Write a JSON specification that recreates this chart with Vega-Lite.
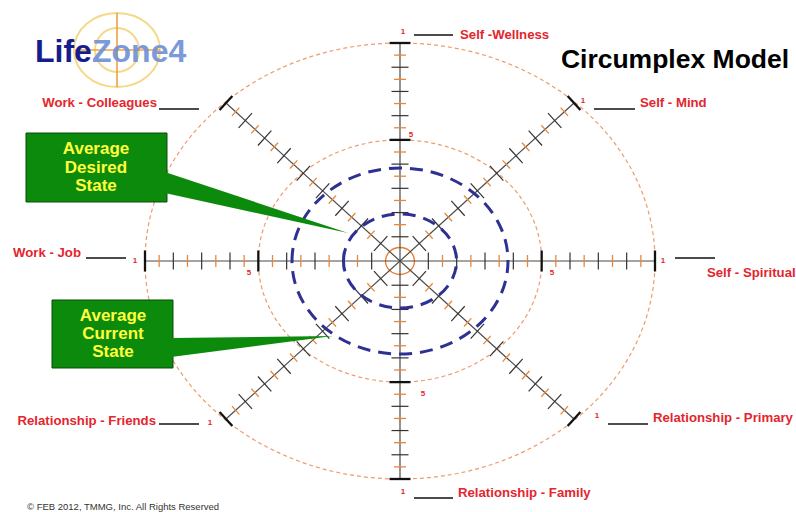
{
"$schema": "https://vega.github.io/schema/vega-lite/v6.json",
"width": 796, "height": 512, "padding": 0, "autosize": {"type": "none"},
"background": "white",
"config": {"view": {"stroke": null}},
"resolve": {"scale": {"shape": "independent"}},
"datasets": {
"ticks": [
{"s":"h","t":"M","u":1,"v":0},{"s":"h","t":"M","u":2,"v":0},{"s":"h","t":"M","u":3,"v":0},{"s":"h","t":"M","u":4,"v":0},{"s":"h","t":"T","u":5,"v":0},{"s":"h","t":"M","u":6,"v":0},{"s":"h","t":"M","u":7,"v":0},{"s":"h","t":"M","u":8,"v":0},{"s":"h","t":"T","u":9,"v":0},
{"s":"h","t":"M","u":-1,"v":0},{"s":"h","t":"M","u":-2,"v":0},{"s":"h","t":"M","u":-3,"v":0},{"s":"h","t":"M","u":-4,"v":0},{"s":"h","t":"T","u":-5,"v":0},{"s":"h","t":"M","u":-6,"v":0},{"s":"h","t":"M","u":-7,"v":0},{"s":"h","t":"M","u":-8,"v":0},{"s":"h","t":"T","u":-9,"v":0},
{"s":"h","t":"n","u":1.5,"v":0},{"s":"h","t":"n","u":2.5,"v":0},{"s":"h","t":"n","u":3.5,"v":0},{"s":"h","t":"n","u":4.5,"v":0},{"s":"h","t":"n","u":5.5,"v":0},{"s":"h","t":"n","u":6.5,"v":0},{"s":"h","t":"n","u":7.5,"v":0},{"s":"h","t":"n","u":8.5,"v":0},
{"s":"h","t":"n","u":-1.5,"v":0},{"s":"h","t":"n","u":-2.5,"v":0},{"s":"h","t":"n","u":-3.5,"v":0},{"s":"h","t":"n","u":-4.5,"v":0},{"s":"h","t":"n","u":-5.5,"v":0},{"s":"h","t":"n","u":-6.5,"v":0},{"s":"h","t":"n","u":-7.5,"v":0},{"s":"h","t":"n","u":-8.5,"v":0},
{"s":"v","t":"M","v":1,"u":0},{"s":"v","t":"M","v":2,"u":0},{"s":"v","t":"M","v":3,"u":0},{"s":"v","t":"M","v":4,"u":0},{"s":"v","t":"T","v":5,"u":0},{"s":"v","t":"M","v":6,"u":0},{"s":"v","t":"M","v":7,"u":0},{"s":"v","t":"M","v":8,"u":0},{"s":"v","t":"T","v":9,"u":0},
{"s":"v","t":"M","v":-1,"u":0},{"s":"v","t":"M","v":-2,"u":0},{"s":"v","t":"M","v":-3,"u":0},{"s":"v","t":"M","v":-4,"u":0},{"s":"v","t":"T","v":-5,"u":0},{"s":"v","t":"M","v":-6,"u":0},{"s":"v","t":"M","v":-7,"u":0},{"s":"v","t":"M","v":-8,"u":0},{"s":"v","t":"T","v":-9,"u":0},
{"s":"v","t":"n","v":1.5,"u":0},{"s":"v","t":"n","v":2.5,"u":0},{"s":"v","t":"n","v":3.5,"u":0},{"s":"v","t":"n","v":4.5,"u":0},{"s":"v","t":"n","v":5.5,"u":0},{"s":"v","t":"n","v":6.5,"u":0},{"s":"v","t":"n","v":7.5,"u":0},{"s":"v","t":"n","v":8.5,"u":0},
{"s":"v","t":"n","v":-1.5,"u":0},{"s":"v","t":"n","v":-2.5,"u":0},{"s":"v","t":"n","v":-3.5,"u":0},{"s":"v","t":"n","v":-4.5,"u":0},{"s":"v","t":"n","v":-5.5,"u":0},{"s":"v","t":"n","v":-6.5,"u":0},{"s":"v","t":"n","v":-7.5,"u":0},{"s":"v","t":"n","v":-8.5,"u":0},
{"s":"d1","t":"M","u":0.682,"v":0.725},{"s":"d1","t":"n","u":1.024,"v":1.087},{"s":"d1","t":"M","u":1.365,"v":1.45},{"s":"d1","t":"n","u":1.706,"v":1.812},{"s":"d1","t":"M","u":2.047,"v":2.174},{"s":"d1","t":"n","u":2.388,"v":2.537},{"s":"d1","t":"M","u":2.73,"v":2.899},{"s":"d1","t":"n","u":3.071,"v":3.262},{"s":"d1","t":"M","u":3.412,"v":3.624},{"s":"d1","t":"n","u":3.753,"v":3.986},{"s":"d1","t":"M","u":4.094,"v":4.349},{"s":"d1","t":"n","u":4.436,"v":4.711},{"s":"d1","t":"M","u":4.777,"v":5.074},{"s":"d1","t":"n","u":5.118,"v":5.436},{"s":"d1","t":"M","u":5.459,"v":5.798},{"s":"d1","t":"n","u":5.8,"v":6.161},{"s":"d1","t":"T","u":6.142,"v":6.523},
{"s":"d1","t":"M","u":-0.682,"v":-0.725},{"s":"d1","t":"n","u":-1.024,"v":-1.087},{"s":"d1","t":"M","u":-1.365,"v":-1.45},{"s":"d1","t":"n","u":-1.706,"v":-1.812},{"s":"d1","t":"M","u":-2.047,"v":-2.174},{"s":"d1","t":"n","u":-2.388,"v":-2.537},{"s":"d1","t":"M","u":-2.73,"v":-2.899},{"s":"d1","t":"n","u":-3.071,"v":-3.262},{"s":"d1","t":"M","u":-3.412,"v":-3.624},{"s":"d1","t":"n","u":-3.753,"v":-3.986},{"s":"d1","t":"M","u":-4.094,"v":-4.349},{"s":"d1","t":"n","u":-4.436,"v":-4.711},{"s":"d1","t":"M","u":-4.777,"v":-5.074},{"s":"d1","t":"n","u":-5.118,"v":-5.436},{"s":"d1","t":"M","u":-5.459,"v":-5.798},{"s":"d1","t":"n","u":-5.8,"v":-6.161},{"s":"d1","t":"T","u":-6.142,"v":-6.523},
{"s":"d2","t":"M","u":-0.682,"v":0.725},{"s":"d2","t":"n","u":-1.024,"v":1.087},{"s":"d2","t":"M","u":-1.365,"v":1.45},{"s":"d2","t":"n","u":-1.706,"v":1.812},{"s":"d2","t":"M","u":-2.047,"v":2.174},{"s":"d2","t":"n","u":-2.388,"v":2.537},{"s":"d2","t":"M","u":-2.73,"v":2.899},{"s":"d2","t":"n","u":-3.071,"v":3.262},{"s":"d2","t":"M","u":-3.412,"v":3.624},{"s":"d2","t":"n","u":-3.753,"v":3.986},{"s":"d2","t":"M","u":-4.094,"v":4.349},{"s":"d2","t":"n","u":-4.436,"v":4.711},{"s":"d2","t":"M","u":-4.777,"v":5.074},{"s":"d2","t":"n","u":-5.118,"v":5.436},{"s":"d2","t":"M","u":-5.459,"v":5.798},{"s":"d2","t":"n","u":-5.8,"v":6.161},{"s":"d2","t":"T","u":-6.142,"v":6.523},
{"s":"d2","t":"M","u":0.682,"v":-0.725},{"s":"d2","t":"n","u":1.024,"v":-1.087},{"s":"d2","t":"M","u":1.365,"v":-1.45},{"s":"d2","t":"n","u":1.706,"v":-1.812},{"s":"d2","t":"M","u":2.047,"v":-2.174},{"s":"d2","t":"n","u":2.388,"v":-2.537},{"s":"d2","t":"M","u":2.73,"v":-2.899},{"s":"d2","t":"n","u":3.071,"v":-3.262},{"s":"d2","t":"M","u":3.412,"v":-3.624},{"s":"d2","t":"n","u":3.753,"v":-3.986},{"s":"d2","t":"M","u":4.094,"v":-4.349},{"s":"d2","t":"n","u":4.436,"v":-4.711},{"s":"d2","t":"M","u":4.777,"v":-5.074},{"s":"d2","t":"n","u":5.118,"v":-5.436},{"s":"d2","t":"M","u":5.459,"v":-5.798},{"s":"d2","t":"n","u":5.8,"v":-6.161},{"s":"d2","t":"T","u":6.142,"v":-6.523}
],
"spokes": [
{"u":-9,"v":0,"u2":9,"v2":0},{"u":0,"v":-9,"u2":0,"v2":9},
{"u":-6.142,"v":-6.523,"u2":6.142,"v2":6.523},{"u":-6.142,"v":6.523,"u2":6.142,"v2":-6.523}
],
"under": [
{"u":0.494,"v":9.33,"u2":1.871,"v2":9.33},{"u":6.847,"v":6.275,"u2":8.294,"v2":6.275},{"u":9.706,"v":0.124,"u2":11.118,"v2":0.124},{"u":7.341,"v":-6.729,"u2":8.753,"v2":-6.729},
{"u":0.494,"v":-9.784,"u2":1.871,"v2":-9.784},{"u":-8.506,"v":-6.729,"u2":-7.094,"v2":-6.729},{"u":-11.082,"v":0.124,"u2":-9.671,"v2":0.124},{"u":-8.506,"v":6.275,"u2":-7.094,"v2":6.275}
],
"txt": [
{"g":"L","text":"Self -Wellness","u":2.118,"v":9.33},
{"g":"L","text":"Self - Mind","u":8.471,"v":6.523},
{"g":"L","text":"Self - Spiritual","u":10.835,"v":-0.495},
{"g":"L","text":"Relationship - Primary","u":8.929,"v":-6.482},
{"g":"L","text":"Relationship - Family","u":2.047,"v":-9.578},
{"g":"R","text":"Relationship - Friends","u":-8.612,"v":-6.605},
{"g":"R","text":"Work - Job","u":-11.259,"v":0.33},
{"g":"R","text":"Work - Colleagues","u":-8.576,"v":6.523},
{"g":"N","text":"1","u":0.106,"v":9.454},{"g":"N","text":"1","u":6.459,"v":6.605},{"g":"N","text":"1","u":9.282,"v":0},{"g":"N","text":"1","u":6.953,"v":-6.399},
{"g":"N","text":"1","u":0.106,"v":-9.537},{"g":"N","text":"1","u":-6.706,"v":-6.688},{"g":"N","text":"1","u":-9.353,"v":0},
{"g":"N","text":"5","u":-5.329,"v":-0.495},{"g":"N","text":"5","u":5.365,"v":-0.495},{"g":"N","text":"5","u":0.388,"v":5.202},{"g":"N","text":"5","u":0.812,"v":-5.491},
{"g":"T","text":"Circumplex Model","u":9.706,"v":8.298},
{"g":"B","text":"Average","u":-10.729,"v":4.624},{"g":"B","text":"Desired","u":-10.729,"v":3.839},{"g":"B","text":"State","u":-10.729,"v":3.096},
{"g":"B","text":"Average","u":-10.129,"v":-2.271},{"g":"B","text":"Current","u":-10.129,"v":-3.014},{"g":"B","text":"State","u":-10.129,"v":-3.757},
{"g":"Life","text":"Life","u":-12.882,"v":8.216},
{"g":"Zone","text":"Zone4","u":-10.871,"v":8.216},
{"g":"C","text":"© FEB  2012, TMMG, Inc.   All Rights Reserved","u":-13.165,"v":-10.156}
]
},
"encoding": {
"x": {"field":"u","type":"quantitative","scale":{"domain":[-14.1176,13.9765],"nice":false,"zero":false},"axis":null},
"y": {"field":"v","type":"quantitative","scale":{"domain":[-10.3624,10.7752],"nice":false,"zero":false},"axis":null}
},
"layer": [
{"data":{"values":[{"ring":"outer","u":0,"v":0}]},
 "mark":{"type":"point","filled":false,"size":4,"opacity":1,"color":"#ee9c6c","stroke":"#ee9c6c","strokeWidth":1.2,"strokeDash":[4,3],"shape":"M-255,0A255,218,0,1,1,255,0A255,218,0,1,1,-255,0Z"}},
{"data":{"values":[{"ring":"middle","u":0,"v":0}]},
 "mark":{"type":"point","filled":false,"size":4,"opacity":1,"color":"#ee9c6c","stroke":"#ee9c6c","strokeWidth":1.2,"strokeDash":[4,3],"shape":"M-141.7,0A141.7,121.1,0,1,1,141.7,0A141.7,121.1,0,1,1,-141.7,0Z"}},
{"data":{"values":[{"ring":"center","u":0,"v":0}]},
 "mark":{"type":"point","filled":false,"size":4,"opacity":1,"color":"#ec7a2c","stroke":"#ec7a2c","strokeWidth":1.3,"shape":"M-14.5,0A14.5,13.5,0,1,1,14.5,0A14.5,13.5,0,1,1,-14.5,0Z"}},
{"data":{"name":"spokes"},"mark":{"type":"rule","color":"#4a4a4a","strokeWidth":1.2},
 "encoding":{"x2":{"field":"u2"},"y2":{"field":"v2"}}},
{"data":{"name":"ticks"},"transform":[{"filter":"datum.t=='n'"}],
 "mark":{"type":"point","filled":false,"size":4,"opacity":1,"color":"#e8873a","stroke":"#e8873a","strokeWidth":1.3},
 "encoding":{"shape":{"field":"s","type":"nominal","legend":null,"scale":{"domain":["h","v","d1","d2"],"range":["M0,-6L0,6","M-6,0L6,0","M-3.7,-4.1L3.7,4.1","M-3.7,4.1L3.7,-4.1"]}}}},
{"data":{"name":"ticks"},"transform":[{"filter":"datum.t=='M'"}],
 "mark":{"type":"point","filled":false,"size":4,"opacity":1,"color":"#333333","stroke":"#333333","strokeWidth":1.2},
 "encoding":{"shape":{"field":"s","type":"nominal","legend":null,"scale":{"domain":["h","v","d1","d2"],"range":["M0,-8.5L0,8.5","M-8.5,0L8.5,0","M-6.7,-7.4L6.7,7.4","M-6.7,7.4L6.7,-7.4"]}}}},
{"data":{"name":"ticks"},"transform":[{"filter":"datum.t=='T'"}],
 "mark":{"type":"point","filled":false,"size":4,"opacity":1,"color":"#111111","stroke":"#111111","strokeWidth":2.3},
 "encoding":{"shape":{"field":"s","type":"nominal","legend":null,"scale":{"domain":["h","v","d1","d2"],"range":["M0,-10.5L0,10.5","M-10.5,0L10.5,0","M-6.4,-7.1L6.4,7.1","M-6.4,7.1L6.4,-7.1"]}}}},
{"data":{"values":[{"ring":"desired","u":0,"v":0}]},
 "mark":{"type":"point","filled":false,"size":4,"opacity":1,"color":"#2f3192","stroke":"#2f3192","strokeWidth":3,"strokeDash":[13,8],"shape":"M-108,0A108,93,0,1,1,108,0A108,93,0,1,1,-108,0Z"}},
{"data":{"values":[{"ring":"current","u":0,"v":0}]},
 "mark":{"type":"point","filled":false,"size":4,"opacity":1,"color":"#2f3192","stroke":"#2f3192","strokeWidth":3,"strokeDash":[13,8],"shape":"M-56.5,0A56.5,47,0,1,1,56.5,0A56.5,47,0,1,1,-56.5,0Z"}},
{"data":{"name":"under"},"mark":{"type":"rule","color":"#111111","strokeWidth":1.4},
 "encoding":{"x2":{"field":"u2"},"y2":{"field":"v2"}}},
{"data":{"values":[{"ring":"logo outer","u":-9.988,"v":8.711}]},
 "mark":{"type":"point","filled":false,"size":4,"opacity":1,"color":"#f5d98a","stroke":"#f5d98a","strokeWidth":2,"shape":"M-43,0A43,37,0,1,1,43,0A43,37,0,1,1,-43,0Z"}},
{"data":{"values":[{"ring":"logo inner","u":-9.988,"v":8.711}]},
 "mark":{"type":"point","filled":false,"size":4,"opacity":1,"color":"#f5d98a","stroke":"#f5d98a","strokeWidth":2,"shape":"M-22,0A22,22,0,1,1,22,0A22,22,0,1,1,-22,0Z"}},
{"data":{"values":[{"u":-9.988,"v":10.238,"u2":-9.988,"v2":7.183},{"u":-11.471,"v":8.711,"u2":-8.471,"v2":8.711}]},
 "mark":{"type":"rule","color":"#f0a040","strokeWidth":1.6},
 "encoding":{"x2":{"field":"u2"},"y2":{"field":"v2"}}},
{"data":{"name":"txt"},"transform":[{"filter":"datum.g=='Life'"}],
 "mark":{"type":"text","align":"left","baseline":"alphabetic","font":"Liberation Sans","fontWeight":"bold","fontSize":32,"color":"#161c8c"},
 "encoding":{"text":{"field":"text"}}},
{"data":{"name":"txt"},"transform":[{"filter":"datum.g=='Zone'"}],
 "mark":{"type":"text","align":"left","baseline":"alphabetic","font":"Liberation Sans","fontWeight":"bold","fontSize":32,"color":"#6e90d6","opacity":0.9},
 "encoding":{"text":{"field":"text"}}},
{"data":{"values":[{"box":"desired","u":-13.2,"u2":-8.224,"v":5.284,"v2":2.436},{"box":"current","u":-12.282,"u2":-8.012,"v":-1.61,"v2":-4.417}]},
 "mark":{"type":"rect","fill":"#0c8a0c","stroke":"#0a4a0a","strokeWidth":1},
 "encoding":{"x2":{"field":"u2"},"y2":{"field":"v2"}}},
{"data":{"values":[{"id":"d","u":-8.3,"v":3.674,"v2":2.807},{"id":"d","u":-1.835,"v":1.156,"v2":1.156},{"id":"c","u":-8.08,"v":-3.179,"v2":-3.963},{"id":"c","u":-2.365,"v":-3.096,"v2":-3.096}]},
 "mark":{"type":"area","color":"#0c8a0c","opacity":1},
 "encoding":{"y2":{"field":"v2"},"detail":{"field":"id","type":"nominal"}}},
{"data":{"name":"txt"},"transform":[{"filter":"datum.g=='B'"}],
 "mark":{"type":"text","align":"center","baseline":"middle","font":"Liberation Sans","fontWeight":"bold","fontSize":17,"color":"#ffff3c"},
 "encoding":{"text":{"field":"text"}}},
{"data":{"name":"txt"},"transform":[{"filter":"datum.g=='L'"}],
 "mark":{"type":"text","align":"left","baseline":"middle","font":"Liberation Sans","fontWeight":"bold","fontSize":13.2,"color":"#e3262e"},
 "encoding":{"text":{"field":"text"}}},
{"data":{"name":"txt"},"transform":[{"filter":"datum.g=='R'"}],
 "mark":{"type":"text","align":"right","baseline":"middle","font":"Liberation Sans","fontWeight":"bold","fontSize":13.2,"color":"#e3262e"},
 "encoding":{"text":{"field":"text"}}},
{"data":{"name":"txt"},"transform":[{"filter":"datum.g=='N'"}],
 "mark":{"type":"text","align":"center","baseline":"middle","font":"Liberation Sans","fontWeight":"bold","fontSize":8,"color":"#e3262e"},
 "encoding":{"text":{"field":"text"}}},
{"data":{"name":"txt"},"transform":[{"filter":"datum.g=='T'"}],
 "mark":{"type":"text","align":"center","baseline":"middle","font":"Liberation Sans","fontWeight":"bold","fontSize":26.5,"color":"#000000"},
 "encoding":{"text":{"field":"text"}}},
{"data":{"name":"txt"},"transform":[{"filter":"datum.g=='C'"}],
 "mark":{"type":"text","align":"left","baseline":"middle","font":"Liberation Sans","fontSize":9.5,"color":"#333333"},
 "encoding":{"text":{"field":"text"}}}
]
}
